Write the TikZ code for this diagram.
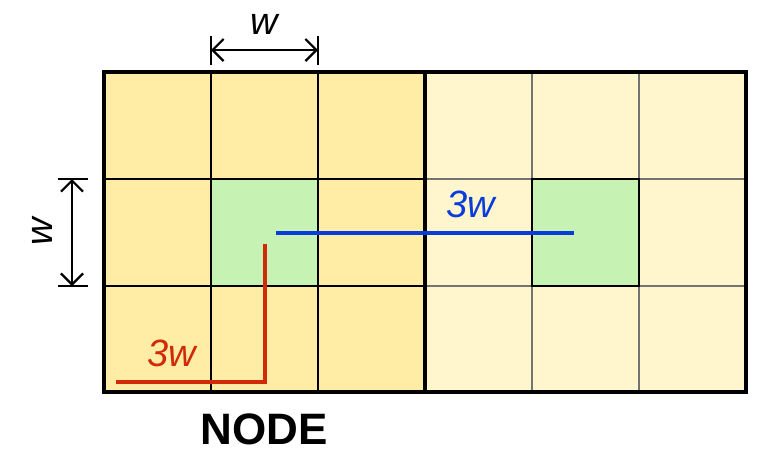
\documentclass[tikz,border=0pt]{standalone}
\usepackage{fontspec}
\setmainfont{Liberation Sans}
\usetikzlibrary{arrows.meta}
\definecolor{ydark}{HTML}{FFEDA6}
\definecolor{ylight}{HTML}{FFF6CE}
\definecolor{gcell}{HTML}{C6F3B4}
\definecolor{bl}{HTML}{0A3CDC}
\definecolor{rd}{HTML}{D02A08}
\tikzset{
  dim/.style={line width=2.2pt},
  dimarrow/.style={line width=2.2pt,{Straight Barb[length=11pt,width=22pt]}-{Straight Barb[length=11pt,width=22pt]}},
  lbl/.style={font=\fontsize{38}{38}\selectfont\itshape, inner sep=0pt},
}
\begin{document}
\begin{tikzpicture}[x=1pt,y=-1pt]
\useasboundingbox (0,0) rectangle (758,451);
% fills
\fill[ydark] (104,72) rectangle (425,392);
\fill[ylight] (425,72) rectangle (746,392);
\fill[gcell] (211,179) rectangle (318,286);
\fill[gcell] (532,179) rectangle (639,286);
% grid lines
\foreach \x in {211,318} \draw[line width=1.6pt] (\x,72) -- (\x,392);
\foreach \x in {532,639} \draw[line width=1.6pt,black!55] (\x,72) -- (\x,392);
\foreach \y in {179,286} {
  \draw[line width=1.6pt] (104,\y) -- (425,\y);
  \draw[line width=1.6pt,black!55] (425,\y) -- (746,\y);
}
\draw[line width=1.6pt] (532,179) rectangle (639,286);
\draw[line width=3.8pt] (425,72) -- (425,392);
\draw[line width=3.8pt] (104,72) rectangle (746,392);
% top dimension
\coordinate (t1) at (211,50);
\coordinate (t2) at (318,50);
\draw[dim] (211,36) -- (211,65);
\draw[dim] (318,36) -- (318,65);
\draw[dimarrow] (t1) -- (t2);
\node[lbl] (tw) at (264,24) {w};
% left dimension
\coordinate (l1) at (72,179);
\coordinate (l2) at (72,286);
\draw[dim] (58,179) -- (88,179);
\draw[dim] (58,286) -- (88,286);
\draw[dimarrow] (l1) -- (l2);
\node[lbl,rotate=90] (lw) at (42,232) {w};
% blue line
\coordinate (b1) at (276,233);
\coordinate (b2) at (574,233);
\draw[bl,line width=3.6pt] (b1) -- (b2);
\node[lbl,text=bl] (b3w) at (471,204) {3w};
% red line
\coordinate (r1) at (265,244);
\coordinate (r2) at (265,382);
\coordinate (r3) at (116,382);
\draw[rd,line width=3.6pt] (r1) -- (r2) -- (r3);
\node[lbl,text=rd] (r3w) at (172,353) {3w};
% label
\node[font=\fontsize{44}{44}\selectfont\bfseries, inner sep=0pt] (nd) at (264,429) {NODE};
\end{tikzpicture}
\end{document}
